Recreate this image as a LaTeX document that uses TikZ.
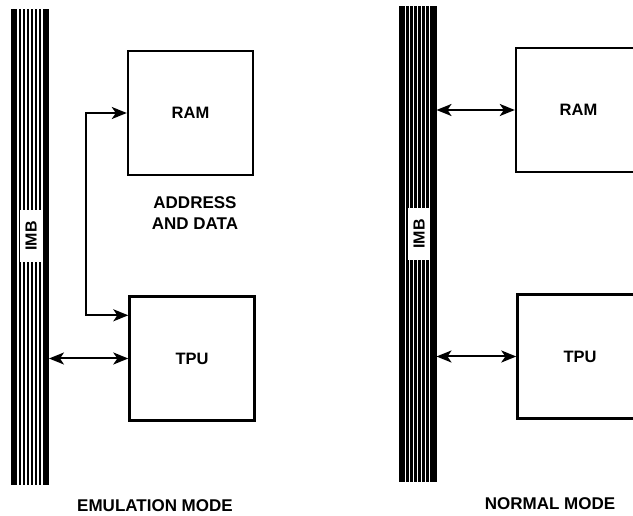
\documentclass[tikz,border=0pt]{standalone}
\usepackage{fontspec}
\setmainfont{Liberation Sans}
\usetikzlibrary{arrows.meta}

\tikzset{
  unitbox/.style={draw, line width=2.4pt, minimum width=125pt, minimum height=124pt,
    inner sep=0pt, font=\bfseries\fontsize{16.5}{18}\selectfont},
  busbar/.style={draw, line width=2pt, fill=black, minimum width=36pt,
    minimum height=474pt, inner sep=0pt},
  buslabel/.style={fill=white, rotate=90, minimum width=52pt, minimum height=22pt,
    inner sep=0pt, font=\fontsize{16}{17}\selectfont\bfseries},
  capt/.style={font=\bfseries\fontsize{17}{20}\selectfont, align=center},
  link/.style={line width=2pt, {Stealth[length=15pt,width=12pt,inset=4pt]}-{Stealth[length=15pt,width=12pt,inset=4pt]}},
}

\begin{document}
\begin{tikzpicture}[x=1pt,y=1pt]
\path[use as bounding box] (0,0) rectangle (633,-516);
\clip (0,0) rectangle (633,-516);
% emulation mode
\node[busbar] (lbus) at (30,-247) {};
\foreach \dx in {-12,-8,-4,0,4,8,12}
  \draw[white, line width=1.4pt] ([xshift=\dx pt]lbus.north) -- ([xshift=\dx pt]lbus.south);
\node[buslabel] (limb) at (31,-236) {IMB};
\node[unitbox] (lram) at (190.5,-113) {RAM};
\node[unitbox] (ltpu) at (192,-358.5) {TPU};
\node[capt] (ldata) at (195,-213) {ADDRESS\\[1pt]AND DATA};
\draw[link] ([yshift=-20pt]ltpu.north west) -- ++(-42,0) |- (lram.west);
\draw[link] (lbus.east |- ltpu.west) -- (ltpu.west);
\node[capt] (lmode) at (155,-506) {EMULATION MODE};
% normal mode
\node[busbar] (rbus) at (417.5,-244) {};
\foreach \dx in {-12,-8,-4,0,4,8,12}
  \draw[white, line width=1.4pt] ([xshift=\dx pt]rbus.north) -- ([xshift=\dx pt]rbus.south);
\node[buslabel] (rimb) at (419,-234) {IMB};
\node[unitbox] (rram) at (578.5,-110) {RAM};
\node[unitbox] (rtpu) at (580,-356.5) {TPU};
\draw[link] (rbus.east |- rram.west) -- (rram.west);
\draw[link] (rbus.east |- rtpu.west) -- (rtpu.west);
\node[capt] (rmode) at (550,-504) {NORMAL MODE};
\end{tikzpicture}
\end{document}
